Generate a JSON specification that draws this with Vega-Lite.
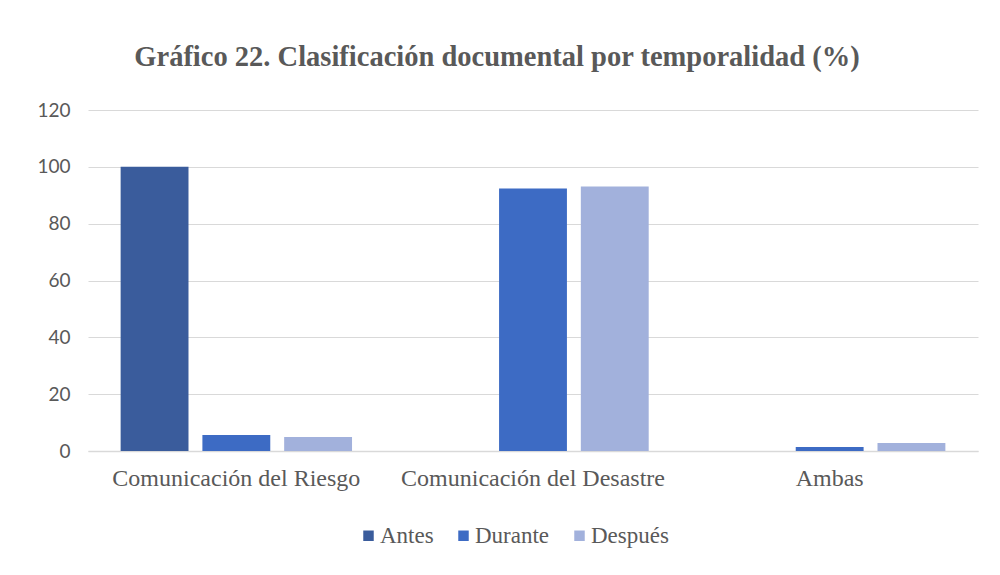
{
  "$schema": "https://vega.github.io/schema/vega-lite/v6.json",
  "width": 890,
  "height": 341,
  "autosize": {"type": "none"},
  "padding": {"left": 88, "top": 110, "right": 22, "bottom": 124},
  "background": "white",
  "title": {
    "text": "Gráfico 22. Clasificación documental por temporalidad (%)",
    "font": "Liberation Serif",
    "fontSize": 28.5,
    "fontWeight": "bold",
    "color": "#595959",
    "anchor": "middle",
    "dx": -36,
    "offset": 30
  },
  "data": {
    "values": [
      {"categoria": "Comunicación del Riesgo", "periodo": "Antes", "valor": 100},
      {"categoria": "Comunicación del Riesgo", "periodo": "Durante", "valor": 5.6},
      {"categoria": "Comunicación del Riesgo", "periodo": "Después", "valor": 4.9},
      {"categoria": "Comunicación del Desastre", "periodo": "Antes", "valor": 0},
      {"categoria": "Comunicación del Desastre", "periodo": "Durante", "valor": 92.4},
      {"categoria": "Comunicación del Desastre", "periodo": "Después", "valor": 93.1},
      {"categoria": "Ambas", "periodo": "Antes", "valor": 0},
      {"categoria": "Ambas", "periodo": "Durante", "valor": 1.4},
      {"categoria": "Ambas", "periodo": "Después", "valor": 2.8}
    ]
  },
  "mark": {"type": "bar"},
  "encoding": {
    "x": {
      "field": "categoria",
      "type": "nominal",
      "sort": ["Comunicación del Riesgo", "Comunicación del Desastre", "Ambas"],
      "scale": {"paddingInner": 0.22, "paddingOuter": 0.11},
      "axis": {
        "title": null,
        "labelAngle": 0,
        "labelLimit": 0,
        "labelFont": "Liberation Serif",
        "labelFontSize": 24,
        "labelColor": "#595959",
        "labelPadding": 15,
        "ticks": false,
        "domainColor": "#d9d9d9",
        "domainWidth": 1.5
      }
    },
    "xOffset": {
      "field": "periodo",
      "type": "nominal",
      "sort": ["Antes", "Durante", "Después"],
      "scale": {"paddingInner": 0.17, "paddingOuter": 0}
    },
    "y": {
      "field": "valor",
      "type": "quantitative",
      "scale": {"domain": [0, 120]},
      "axis": {
        "title": null,
        "values": [0, 20, 40, 60, 80, 100, 120],
        "labelFont": "Lato",
        "labelFontSize": 19,
        "labelColor": "#595959",
        "labelPadding": 18,
        "ticks": false,
        "domain": false,
        "gridColor": "#d9d9d9",
        "gridWidth": 1.2
      }
    },
    "color": {
      "field": "periodo",
      "type": "nominal",
      "sort": ["Antes", "Durante", "Después"],
      "scale": {
        "domain": ["Antes", "Durante", "Después"],
        "range": ["#3A5C9C", "#3D6BC4", "#A2B1DC"]
      },
      "legend": {
        "title": null,
        "orient": "none",
        "direction": "horizontal",
        "legendX": 269,
        "legendY": 414,
        "symbolType": "square",
        "symbolSize": 110,
        "symbolStrokeWidth": 0,
        "symbolOpacity": 1,
        "labelFont": "Liberation Serif",
        "labelFontSize": 23,
        "labelColor": "#595959",
        "labelOffset": 0,
        "columnPadding": 18
      }
    }
  },
  "config": {
    "view": {"stroke": null}
  }
}
